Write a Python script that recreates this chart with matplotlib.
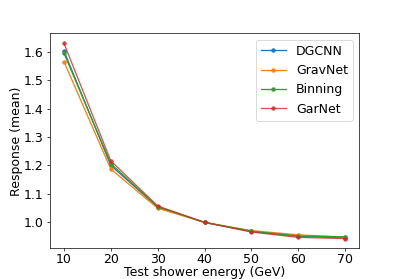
import numpy as np
import matplotlib
matplotlib.use("Agg")
import matplotlib.pyplot as plt

# ── Data ──────────────────────────────────────────────────────────────────────
energy  = [10, 20, 30, 40, 50, 60, 70]
dgcnn   = [1.604, 1.200, 1.053, 0.999, 0.967, 0.950, 0.945]
gravnet = [1.566, 1.187, 1.049, 0.999, 0.970, 0.955, 0.947]
binning = [1.596, 1.206, 1.054, 0.999, 0.968, 0.951, 0.948]
garnet  = [1.631, 1.216, 1.057, 0.999, 0.965, 0.946, 0.942]

# ── Plot ──────────────────────────────────────────────────────────────────────
fig = plt.figure(figsize=(6.4, 4.475), dpi=62.35)
ax = fig.add_subplot(111)

ax.plot(energy, dgcnn,   marker="o", ms=4, lw=1.5, color="#1f77b4", label="DGCNN")
ax.plot(energy, gravnet, marker="o", ms=4, lw=1.5, color="#ff7f0e", label="GravNet")
ax.plot(energy, binning, marker="o", ms=4, lw=1.5, color="#2ca02c", label="Binning")
ax.plot(energy, garnet,  marker="o", ms=4, lw=1.5, color="#d62728", label="GarNet", alpha=0.8)

ax.set_xlabel("Test shower energy (GeV)", fontsize=14.5, labelpad=0)
ax.set_ylabel("Response (mean)", fontsize=14.5, labelpad=1)
ax.tick_params(labelsize=14.5)
ax.tick_params(axis="x", pad=1.5)
ax.set_yticks([1.0, 1.1, 1.2, 1.3, 1.4, 1.5, 1.6])
ax.legend(fontsize=14.5)

fig.savefig("out.png", dpi=62.35)
